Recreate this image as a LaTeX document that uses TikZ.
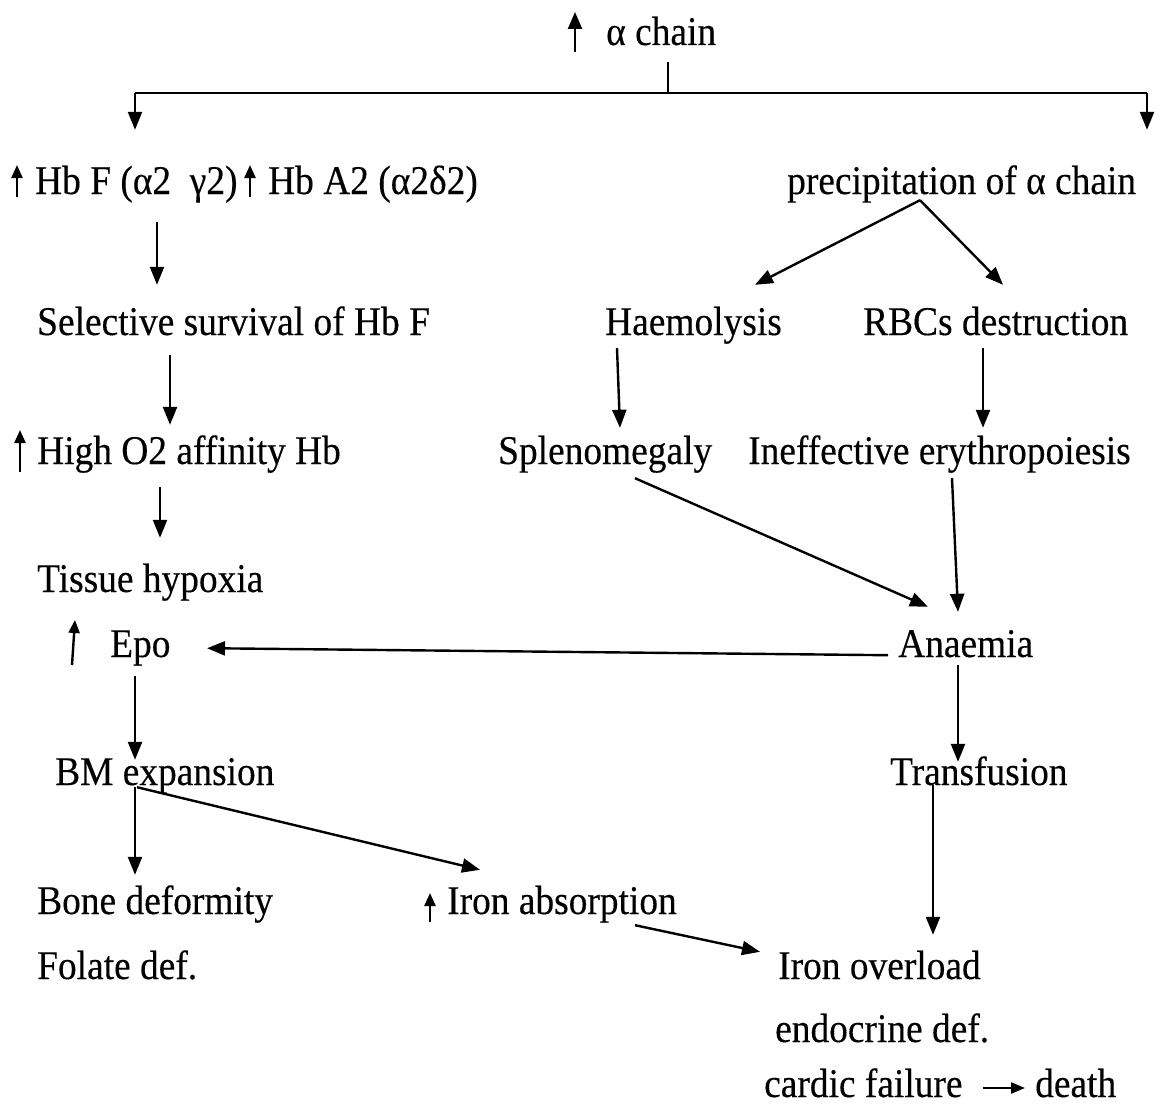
\documentclass[tikz,border=0pt]{standalone}
\usepackage{graphicx}
\usepackage{fontspec}
\setmainfont{Liberation Serif}
\newfontfamily\reffont{Liberation Serif}[FakeBold=0.3]
\newcommand{\vtx}[1]{\scalebox{1}[1.09]{#1}}
\usetikzlibrary{arrows.meta}
\tikzset{
  lbl/.style={inner sep=0pt, text height=26pt, text depth=8pt, anchor=base west,
    font=\reffont\fontsize{37.4}{40}\selectfont},
  arr/.style={line width=2.4pt, -{Triangle[length=18pt,width=14pt]}},
  ln/.style={line width=2.4pt},
  uparr/.style={line width=2.4pt, -{Triangle[length=13pt,width=11pt]}},
  bigup/.style={line width=2.4pt, -{Triangle[length=17pt,width=14pt]}},
  smallarr/.style={line width=2.4pt, -{Triangle[length=14pt,width=11pt]}}
}
\begin{document}
\begin{tikzpicture}[x=1pt,y=1pt]
\useasboundingbox[fill=white] (0,0) rectangle (1164,-1113);
% nodes
\node[lbl] (alpha) at (606,-45) {\vtx{α chain}};
\node[lbl] (hbf) at (35,-194) {\vtx{Hb F (α2\ \ γ2)}};
\node[lbl] (hba) at (268,-194) {\vtx{Hb A2 (α2δ2)}};
\node[lbl] (precip) at (787,-194) {\vtx{precipitation of α chain}};
\node[lbl] (sel) at (37,-335) {\vtx{Selective survival of Hb F}};
\node[lbl] (haem) at (605,-335) {\vtx{Haemolysis}};
\node[lbl] (rbc) at (863,-335) {\vtx{RBCs destruction}};
\node[lbl] (high) at (37,-464) {\vtx{High O2 affinity Hb}};
\node[lbl] (spleno) at (498,-464) {\vtx{Splenomegaly}};
\node[lbl] (ineff) at (748,-464) {\vtx{Ineffective erythropoiesis}};
\node[lbl] (tissue) at (37,-592) {\vtx{Tissue hypoxia}};
\node[lbl] (epo) at (110,-657) {\vtx{Epo}};
\node[lbl] (anaemia) at (898,-657) {\vtx{Anaemia}};
\node[lbl] (bm) at (55,-785) {\vtx{BM expansion}};
\node[lbl] (transf) at (890,-785) {\vtx{Transfusion}};
\node[lbl] (bone) at (37,-914) {\vtx{Bone deformity}};
\node[lbl] (ironabs) at (447,-914) {\vtx{Iron absorption}};
\node[lbl] (folate) at (37,-979) {\vtx{Folate def.}};
\node[lbl] (ironover) at (778,-979) {\vtx{Iron overload}};
\node[lbl] (endo) at (775,-1042) {\vtx{endocrine def.}};
\node[lbl] (cardic) at (764,-1097) {\vtx{cardic failure}};
\node[lbl] (death) at (1035,-1097) {\vtx{death}};
% small "increase" arrows
\draw[bigup] (575,-52) -- (575,-12);
\draw[uparr] (17,-197) -- (17,-165);
\draw[uparr] (250,-197) -- (250,-165);
\draw[uparr] (20,-472) -- (20,-430);
\draw[uparr] (72,-665) -- (75,-620);
\draw[uparr] (430,-922) -- (430,-893);
% top bracket
\coordinate (brM) at (668,-93);
\coordinate (brL) at (135,-93);
\coordinate (brR) at (1147,-93);
\draw[ln] ([xshift=62pt,yshift=-9pt]alpha.south west) -- (brM);
\draw[ln] (brL) -- (brR);
\draw[arr] (brL) -- ([xshift=100pt,yshift=38pt]hbf.north west);
\draw[arr] (brR) -- ([xshift=360pt,yshift=38pt]precip.north west);
% left column
\draw[arr] ([xshift=122pt,yshift=-20pt]hbf.south west) -- ([xshift=120pt,yshift=24pt]sel.north west);
\draw[arr] ([xshift=133pt,yshift=-12pt]sel.south west) -- ([xshift=133pt,yshift=13pt]high.north west);
\draw[arr] ([xshift=123pt,yshift=-15pt]high.south west) -- ([xshift=123pt,yshift=28pt]tissue.north west);
\draw[arr] ([xshift=25pt,yshift=-11pt]epo.south west) -- ([xshift=80pt,yshift=-1pt]bm.north west);
\draw[arr] ([xshift=80pt,yshift=6pt]bm.south west) -- ([xshift=98pt,yshift=13pt]bone.north west);
\draw[arr] ([xshift=82pt,yshift=6pt]bm.south west) -- ([xshift=33pt,yshift=18pt]ironabs.north west);
\draw[arr] ([xshift=188pt,yshift=-3pt]ironabs.south west) -- ([xshift=-18pt,yshift=1pt]ironover.north west);
% right column
\draw[arr] ([xshift=133pt,yshift=2pt]precip.south west) -- ([xshift=150pt,yshift=24pt]haem.north west);
\draw[arr] ([xshift=133pt,yshift=2pt]precip.south west) -- ([xshift=140pt,yshift=24pt]rbc.north west);
\draw[arr] ([xshift=12pt,yshift=-5pt]haem.south west) -- ([xshift=122pt,yshift=10pt]spleno.north west);
\draw[arr] ([xshift=120pt,yshift=-5pt]rbc.south west) -- ([xshift=235pt,yshift=10pt]ineff.north west);
\draw[arr] ([xshift=137pt,yshift=-6pt]spleno.south west) -- ([xshift=30pt,yshift=24pt]anaemia.north west);
\draw[arr] ([xshift=204pt,yshift=-6pt]ineff.south west) -- ([xshift=60pt,yshift=19pt]anaemia.north west);
\draw[arr] ([xshift=-10pt,yshift=10pt]anaemia.south west) -- ([xshift=97pt,yshift=17pt]epo.south west);
\draw[arr] ([xshift=60pt,yshift=0pt]anaemia.south west) -- ([xshift=68pt,yshift=-3pt]transf.north west);
\draw[arr] ([xshift=43pt,yshift=8pt]transf.south west) -- ([xshift=155pt,yshift=18pt]ironover.north west);
\draw[smallarr] ([xshift=20pt]cardic.east) -- ([xshift=-10pt]death.west);
\end{tikzpicture}
\end{document}
